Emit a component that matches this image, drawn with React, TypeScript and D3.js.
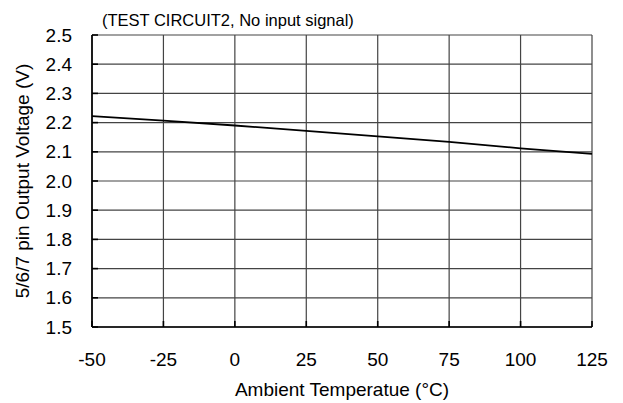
import * as d3 from "d3";

const temps = [-50, -25, 0, 25, 50, 75, 100, 125];
const voltage = [2.222, 2.207, 2.19, 2.172, 2.153, 2.134, 2.112, 2.093];
const xTicks = [-50, -25, 0, 25, 50, 75, 100, 125];
const yTicks = [1.5, 1.6, 1.7, 1.8, 1.9, 2.0, 2.1, 2.2, 2.3, 2.4, 2.5];

const W = 623;
const H = 403;
const M = { left: 92, right: 31, top: 35, bottom: 76 };

export default function App() {
  const x = d3.scaleLinear().domain([-50, 125]).range([M.left, W - M.right]);
  const y = d3.scaleLinear().domain([1.5, 2.5]).range([H - M.bottom, M.top]);
  const line = d3
    .line<number>()
    .x((_, i) => x(temps[i]))
    .y((d) => y(d));
  const font = "'Liberation Sans', Arial, sans-serif";

  return (
    <svg
      width={W}
      height={H}
      style={{ position: "absolute", left: 0, top: 0, background: "#fff" }}
      fontFamily={font}
    >
      <g stroke="#444" strokeWidth={1.2}>
        {yTicks.map((t) => (
          <line key={"gy" + t} x1={x(-50)} x2={x(125)} y1={y(t)} y2={y(t)} />
        ))}
        {xTicks.map((t) => (
          <line key={"gx" + t} x1={x(t)} x2={x(t)} y1={y(1.5)} y2={y(2.5)} />
        ))}
      </g>
      <g stroke="#000" strokeWidth={1.6}>
        {yTicks.map((t) => (
          <line key={"ty" + t} x1={x(-50)} x2={x(-50) + 6} y1={y(t)} y2={y(t)} />
        ))}
        {xTicks.map((t) => (
          <line key={"tx" + t} x1={x(t)} x2={x(t)} y1={y(1.5)} y2={y(1.5) - 6} />
        ))}
        <line x1={x(-50)} x2={x(-50)} y1={y(1.5)} y2={y(2.5)} />
        <line x1={x(-50)} x2={x(125)} y1={y(1.5)} y2={y(1.5)} />
      </g>
      <path d={line(voltage) ?? ""} fill="none" stroke="#000" strokeWidth={1.8} />
      <g fontSize={19} fill="#000">
        {yTicks.map((t) => (
          <text key={"ly" + t} x={72} y={y(t)} dy="0.35em" textAnchor="end">
            {t.toFixed(1)}
          </text>
        ))}
        {xTicks.map((t) => (
          <text key={"lx" + t} x={x(t)} y={366} textAnchor="middle">
            {t}
          </text>
        ))}
      </g>
      <text x={102} y={25.5} fontSize={16.5}>
        (TEST CIRCUIT2, No input signal)
      </text>
      <text x={(x(-50) + x(125)) / 2} y={396} fontSize={19} textAnchor="middle">
        Ambient Temperatue (°C)
      </text>
      <text
        transform={`translate(29, ${(y(1.5) + y(2.5)) / 2}) rotate(-90)`}
        fontSize={19}
        textAnchor="middle"
      >
        5/6/7 pin Output Voltage (V)
      </text>
    </svg>
  );
}
